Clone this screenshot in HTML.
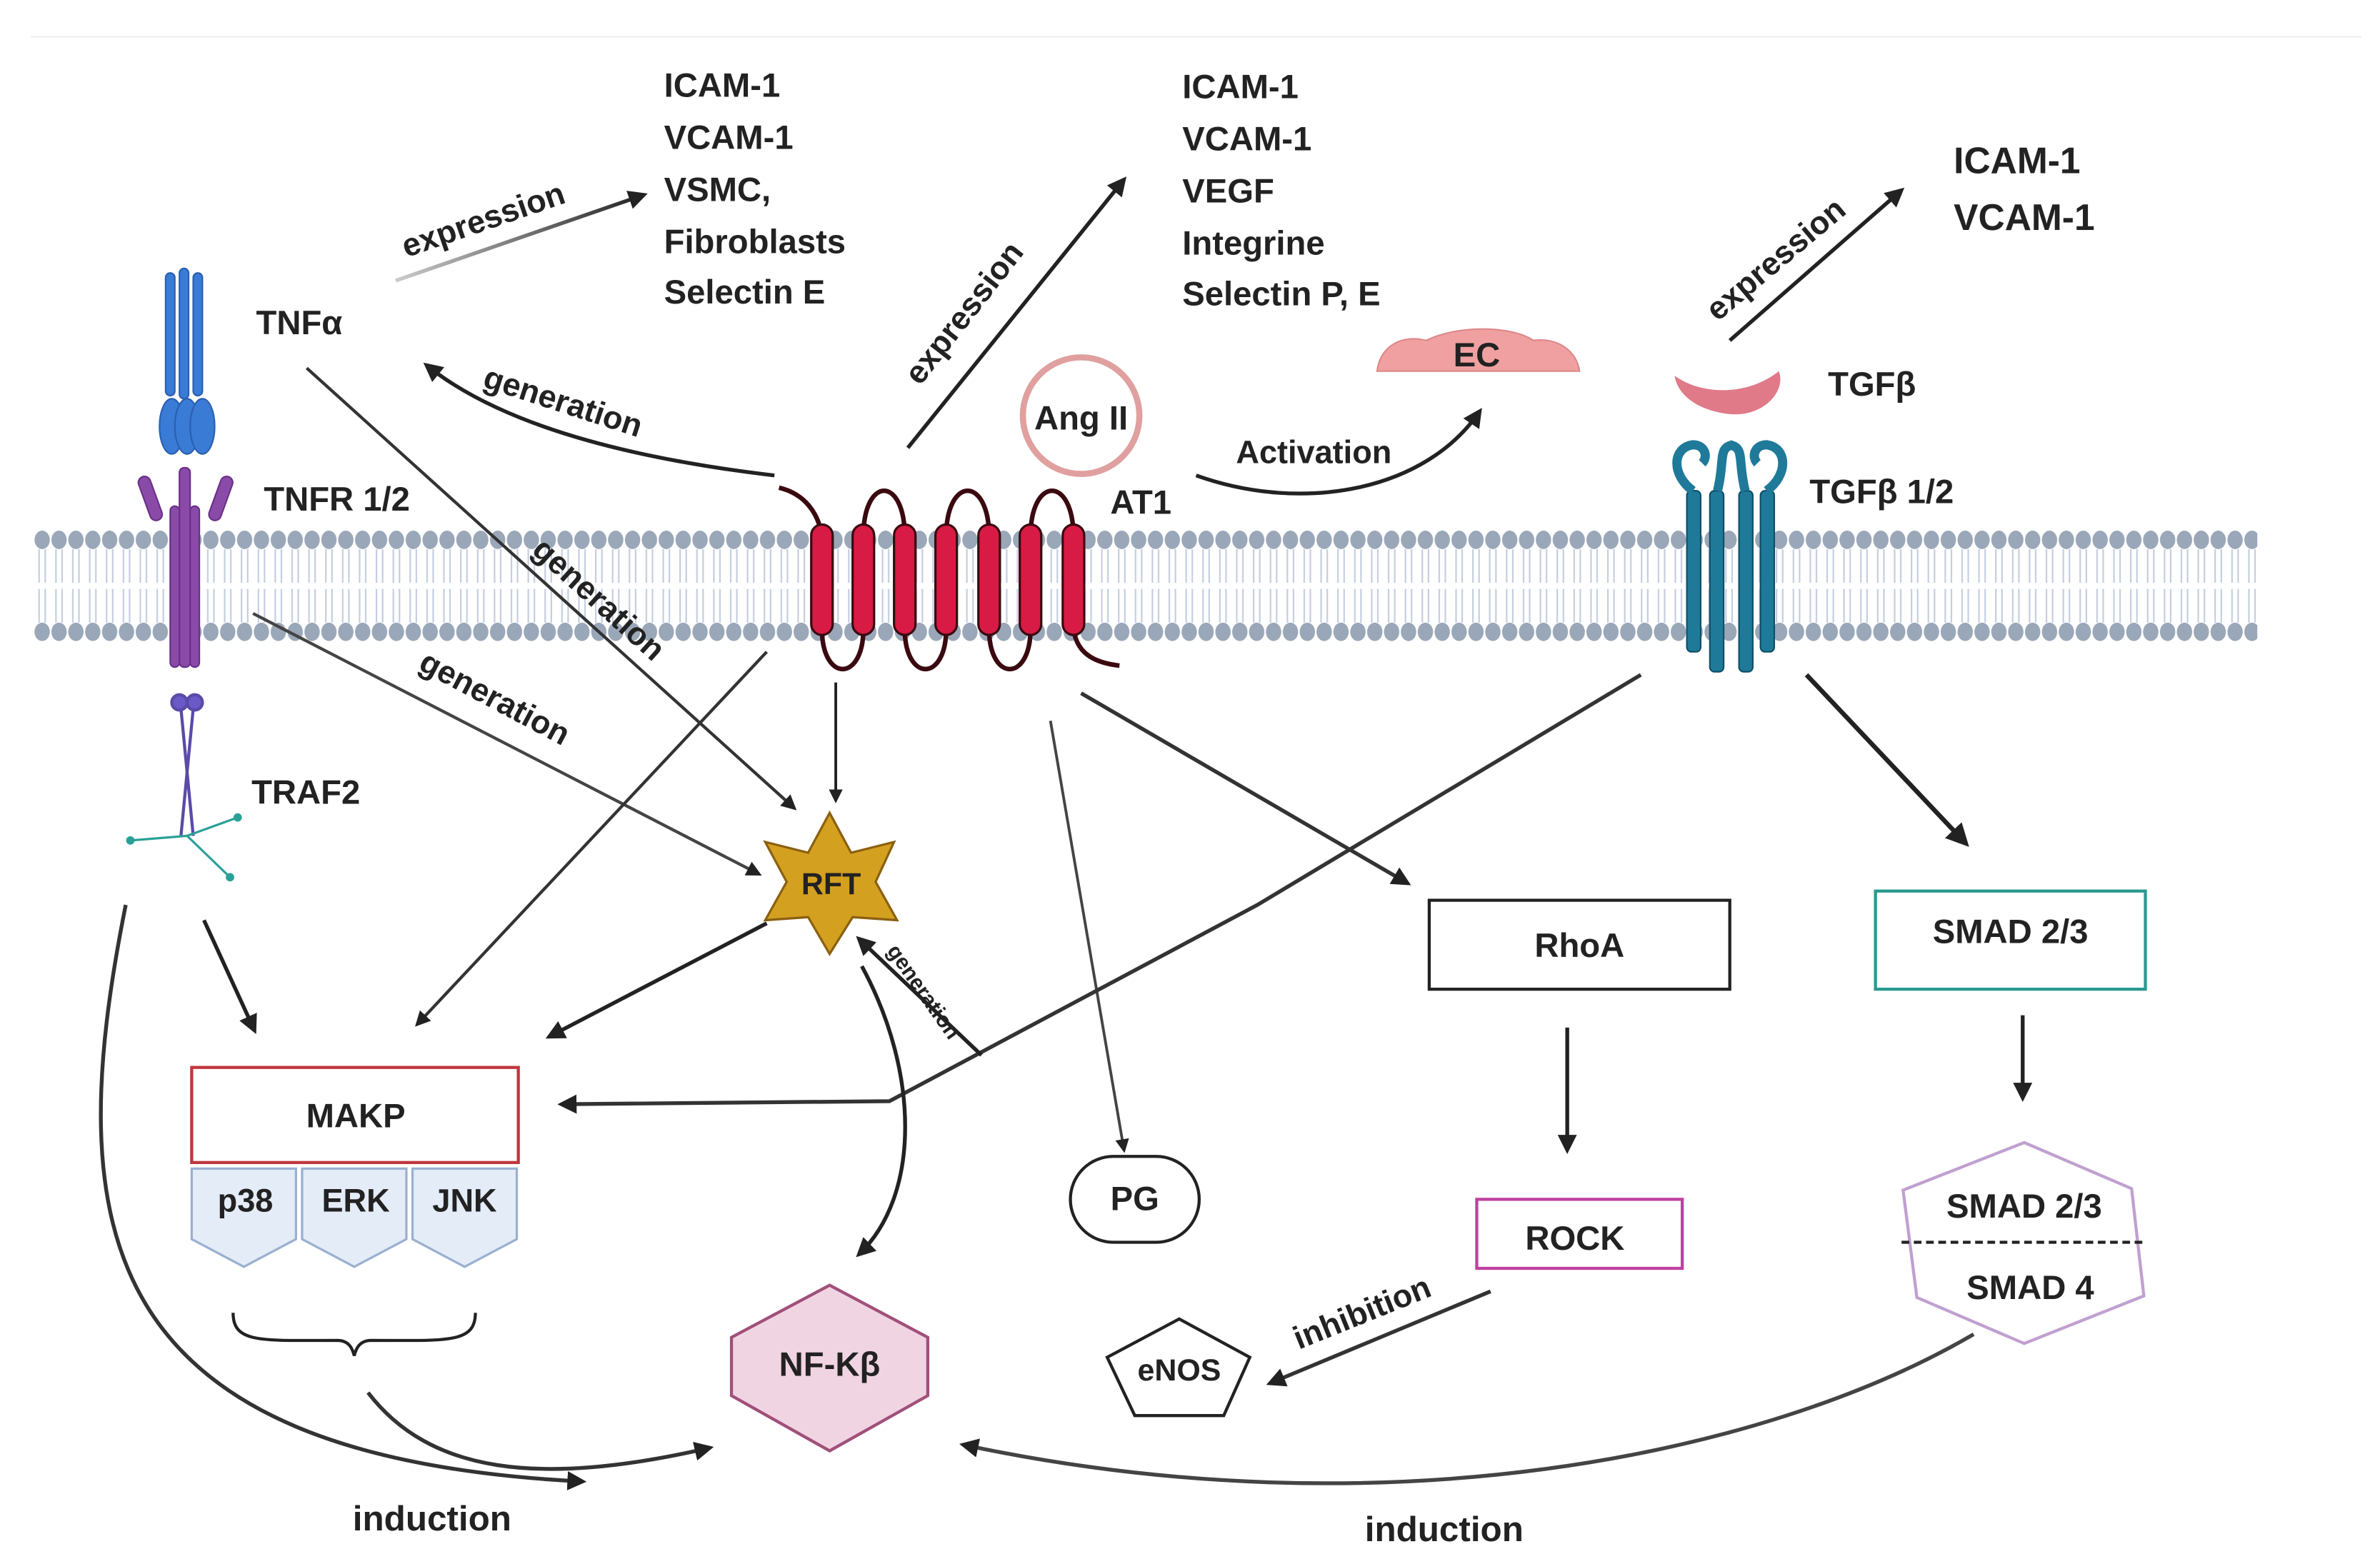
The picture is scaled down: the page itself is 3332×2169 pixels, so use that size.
<!DOCTYPE html>
<html><head><meta charset="utf-8"><style>html,body{margin:0;padding:0;background:#fff}svg{display:block}text{font-family:"Liberation Sans",Arial,sans-serif;font-weight:bold;fill:#222}</style></head><body>
<svg width="3332" height="2169" viewBox="0 0 1552 1010" preserveAspectRatio="none" xmlns="http://www.w3.org/2000/svg">
<defs>
<pattern id="heads" x="22" y="0" width="11" height="1010" patternUnits="userSpaceOnUse">
<ellipse cx="5.5" cy="352" rx="5" ry="6" fill="#9aa7b8"/>
<ellipse cx="5.5" cy="412" rx="5" ry="6" fill="#9aa7b8"/>
<path d="M3.5 358 L3.5 380 M7.5 358 L7.5 380 M3.5 384 L3.5 406 M7.5 384 L7.5 406" stroke="#c3cde0" stroke-width="1"/>
</pattern>
<marker id="ah" viewBox="0 0 10 10" refX="8" refY="5" markerWidth="5" markerHeight="5" orient="auto"><path d="M0 0 L10 5 L0 10 z" fill="#222"/></marker>
<linearGradient id="fadeL" x1="0" y1="0" x2="1" y2="0"><stop offset="0" stop-color="#ccc"/><stop offset="1" stop-color="#222"/></linearGradient>
</defs>
<rect width="1552" height="1010" fill="#fff"/>
<line x1="20" y1="24" x2="1540" y2="24" stroke="#eee"/>
<rect x="22" y="340" width="1450" height="80" fill="url(#heads)"/>

<g fill="#3a7bd5" stroke="#2a5fb0" stroke-width="1">
<rect x="108" y="178" width="6" height="80" rx="3"/><rect x="117" y="175" width="6" height="85" rx="3"/><rect x="126" y="178" width="6" height="80" rx="3"/>
<ellipse cx="112" cy="278" rx="8" ry="18"/><ellipse cx="122" cy="278" rx="8" ry="18"/><ellipse cx="132" cy="278" rx="8" ry="18"/>
</g>
<g fill="#8a4aa8" stroke="#6a3088" stroke-width="1">
<rect x="117" y="305" width="7" height="130" rx="3"/><rect x="111" y="330" width="6" height="105" rx="3"/><rect x="124" y="330" width="6" height="105" rx="3"/>
<rect x="94" y="310" width="8" height="30" rx="4" transform="rotate(-20 98 325)"/><rect x="140" y="310" width="8" height="30" rx="4" transform="rotate(20 144 325)"/>
</g>
<g stroke="#5b4aa8" stroke-width="2" fill="#6a5ac8"><circle cx="117" cy="458" r="5"/><circle cx="127" cy="458" r="5"/><line x1="118" y1="462" x2="126" y2="545"/><line x1="126" y1="462" x2="118" y2="545"/></g>
<g stroke="#2aa198" stroke-width="1.5" fill="#2aa198"><line x1="122" y1="545" x2="85" y2="548"/><line x1="122" y1="545" x2="155" y2="533"/><line x1="122" y1="545" x2="150" y2="572"/><circle cx="85" cy="548" r="2"/><circle cx="155" cy="533" r="2"/><circle cx="150" cy="572" r="2"/></g>
<text x="167" y="218" font-size="22">TNFα</text>
<text x="172" y="333" font-size="22">TNFR 1/2</text>
<text x="164" y="524" font-size="22">TRAF2</text>

<g stroke="#3a0a10" stroke-width="3" fill="none">
<path d="M508 318 C525 322 534 335 536 350"/>
<path d="M563 350 C563 310 590 310 590 350"/><path d="M617 350 C617 310 645 310 645 350"/><path d="M672 350 C672 310 700 310 700 350"/>
<path d="M536 410 C536 445 563 445 563 410"/><path d="M590 410 C590 445 617 445 617 410"/><path d="M645 410 C645 445 672 445 672 410"/>
<path d="M700 410 C702 425 712 432 730 434"/>
</g>
<g fill="#d81b45" stroke="#3a0a10" stroke-width="1.5">
<rect x="529" y="342" width="14" height="72" rx="7"/><rect x="556" y="342" width="14" height="72" rx="7"/><rect x="583" y="342" width="14" height="72" rx="7"/><rect x="610" y="342" width="14" height="72" rx="7"/><rect x="638" y="342" width="14" height="72" rx="7"/><rect x="665" y="342" width="14" height="72" rx="7"/><rect x="693" y="342" width="14" height="72" rx="7"/>
</g>
<text x="724" y="335" font-size="22">AT1</text>
<circle cx="705" cy="271" r="38" fill="#fff" stroke="#e0a0a0" stroke-width="4"/>
<text x="705" y="280" font-size="22" text-anchor="middle">Ang II</text>

<path d="M898 242 C900 225 915 218 930 222 C950 212 985 212 1000 222 C1015 220 1028 228 1030 242 Z" fill="#f0a0a0" stroke="#d88" stroke-width="1"/>
<text x="963" y="239" font-size="22" text-anchor="middle">EC</text>

<path d="M1092 245 C1110 258 1140 258 1160 242 C1165 255 1150 272 1128 270 C1108 268 1094 258 1092 245Z" fill="#e07a88"/>
<text x="1192" y="258" font-size="22">TGFβ</text>
<text x="1180" y="328" font-size="22">TGFβ 1/2</text>
<g fill="#1f7a9a" stroke="#0e4f66" stroke-width="1">
<rect x="1100" y="320" width="9" height="105" rx="3"/><rect x="1115" y="320" width="9" height="118" rx="3"/><rect x="1134" y="320" width="9" height="118" rx="3"/><rect x="1148" y="320" width="9" height="105" rx="3"/>
</g>
<g stroke="#1f7a9a" stroke-width="6" fill="none"><path d="M1104 320 C1090 310 1090 292 1104 290 C1112 290 1114 298 1110 302"/><path d="M1120 320 C1125 300 1120 292 1130 290"/><path d="M1138 320 C1133 300 1138 292 1128 290"/><path d="M1152 320 C1166 310 1166 292 1152 290 C1144 290 1142 298 1146 302"/></g>

<g font-size="22">
<text x="433" y="63">ICAM-1</text><text x="433" y="97">VCAM-1</text><text x="433" y="131">VSMC,</text><text x="433" y="165">Fibroblasts</text><text x="433" y="198">Selectin E</text>
<text x="771" y="64">ICAM-1</text><text x="771" y="98">VCAM-1</text><text x="771" y="132">VEGF</text><text x="771" y="166">Integrine</text><text x="771" y="199">Selectin P, E</text>
<text x="1274" y="113" font-size="24">ICAM-1</text><text x="1274" y="150" font-size="24">VCAM-1</text>
</g>

<g fill="none" stroke-width="2.5" marker-end="url(#ah)">
<line x1="258" y1="183" x2="420" y2="127" stroke="url(#fadeL)"/>
<line x1="592" y1="292" x2="733" y2="117" stroke="#222"/>
<line x1="1128" y1="222" x2="1240" y2="124" stroke="#222"/>
<path d="M505 310 C420 300 330 280 278 238" stroke="#222"/>
<path d="M780 310 C850 335 930 320 965 268" stroke="#222"/>
<line x1="200" y1="240" x2="518" y2="527" stroke="#333" stroke-width="2"/>
<line x1="165" y1="400" x2="495" y2="570" stroke="#444" stroke-width="2"/>
<line x1="545" y1="445" x2="545" y2="522" stroke="#222" stroke-width="1.8"/>
<line x1="500" y1="425" x2="272" y2="668" stroke="#333" stroke-width="2"/>
<line x1="500" y1="602" x2="358" y2="676" stroke="#222"/>
<line x1="685" y1="470" x2="733" y2="750" stroke="#444" stroke-width="1.8"/>
<line x1="705" y1="452" x2="918" y2="576" stroke="#333"/>
<line x1="1178" y1="440" x2="1282" y2="550" stroke="#222" stroke-width="3"/>
<path d="M1070 440 L820 590 L580 718 L366 720" stroke="#333"/>
<path d="M640 688 L560 612" stroke="#222"/>
<path d="M562 630 C600 700 600 780 560 818" stroke="#222"/>
<line x1="133" y1="600" x2="166" y2="672" stroke="#222"/>
<line x1="1022" y1="670" x2="1022" y2="750" stroke="#222"/>
<line x1="1319" y1="662" x2="1319" y2="716" stroke="#222"/>
<line x1="972" y1="842" x2="828" y2="902" stroke="#333"/>
<path d="M82 590 C40 800 60 950 380 966" stroke="#333"/>
<path d="M240 908 C280 960 350 970 463 944" stroke="#333"/>
<path d="M1287 870 C1150 950 900 1000 628 942" stroke="#444"/>
</g>

<g font-size="21">
<text transform="translate(265 168) rotate(-19)">expression</text>
<text transform="translate(600 252) rotate(-52)">expression</text>
<text transform="translate(1120 210) rotate(-40)">expression</text>
<text transform="translate(314 252) rotate(18)">generation</text>
<text transform="translate(346 360) rotate(42)">generation</text>
<text transform="translate(272 436) rotate(28)">generation</text>
<text transform="translate(578 620) rotate(55)" font-size="14">generation</text>
<text x="806" y="302">Activation</text>
<text transform="translate(847 880) rotate(-22)">inhibition</text>
<text x="230" y="998" font-size="23">induction</text>
<text x="890" y="1005" font-size="23">induction</text>
</g>

<polygon points="541,530 555,556 583,549 571,575 585,600 556,598 541,622 527,598 499,600 513,575 499,549 527,556" fill="#d4a020" stroke="#8a6010" stroke-width="1.5"/>
<text x="542" y="583" font-size="20" text-anchor="middle">RFT</text>

<rect x="125" y="696" width="213" height="62" fill="#fff" stroke="#c0363c" stroke-width="2"/>
<text x="232" y="735" font-size="22" text-anchor="middle">MAKP</text>
<g fill="#e4ecf8" stroke="#9ab0d0" stroke-width="1.5">
<path d="M125 762 H193 V808 L159 826 L125 808Z"/><path d="M197 762 H265 V808 L231 826 L197 808Z"/><path d="M269 762 H337 V808 L303 826 L269 808Z"/>
</g>
<g font-size="21" text-anchor="middle"><text x="160" y="790">p38</text><text x="232" y="790">ERK</text><text x="303" y="790">JNK</text></g>
<path d="M152 856 C152 876 170 874 220 874 C228 874 230 880 231 884 C232 880 234 874 242 874 C292 874 310 876 310 856" fill="none" stroke="#222" stroke-width="2"/>

<polygon points="541,838 605,872 605,910 541,946 477,910 477,872" fill="#f1d4e2" stroke="#a0507a" stroke-width="2"/>
<text x="541" y="897" font-size="22" text-anchor="middle">NF-Kβ</text>

<rect x="698" y="754" width="84" height="56" rx="28" fill="#fff" stroke="#222" stroke-width="2"/>
<text x="740" y="789" font-size="22" text-anchor="middle">PG</text>

<rect x="932" y="587" width="196" height="58" fill="#fff" stroke="#222" stroke-width="2"/>
<text x="1030" y="624" font-size="22" text-anchor="middle">RhoA</text>
<rect x="963" y="782" width="134" height="45" fill="#fff" stroke="#c040a0" stroke-width="2"/>
<text x="1027" y="815" font-size="22" text-anchor="middle">ROCK</text>
<polygon points="769,860 815,885 798,923 740,923 722,885" fill="#fff" stroke="#222" stroke-width="2"/>
<text x="769" y="900" font-size="20" text-anchor="middle">eNOS</text>

<rect x="1223" y="581" width="176" height="64" fill="#fff" stroke="#2a9a90" stroke-width="2"/>
<text x="1311" y="615" font-size="22" text-anchor="middle">SMAD 2/3</text>
<polygon points="1320,745 1390,775 1398,845 1320,876 1250,846 1241,776" fill="#fff" stroke="#c0a0d0" stroke-width="2"/>
<line x1="1240" y1="810" x2="1398" y2="810" stroke="#222" stroke-width="2" stroke-dasharray="5 3"/>
<text x="1320" y="794" font-size="22" text-anchor="middle">SMAD 2/3</text>
<text x="1324" y="847" font-size="22" text-anchor="middle">SMAD 4</text>
</svg>
</body></html>
